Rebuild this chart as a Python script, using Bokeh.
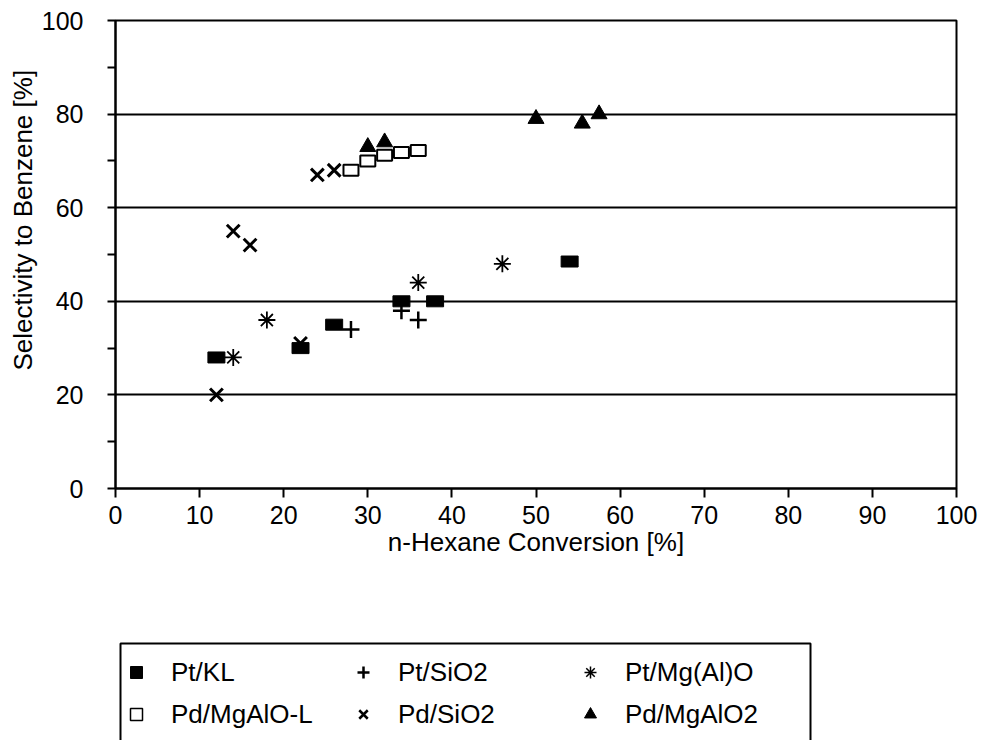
from bokeh.plotting import figure
from bokeh.layouts import column
from bokeh.models import (ColumnDataSource, FixedTicker, Legend, LegendItem, Title,
                          BoxAnnotation)
from bokeh.embed import file_html
from bokeh.resources import INLINE

FONT = "Liberation Sans"

# n-Hexane conversion (%) and selectivity to benzene (%) for each catalyst
pt_kl_conv = [12, 22, 26, 34, 38, 54]
pt_kl_sel = [28, 30, 35, 40, 40, 48.5]

pt_sio2_conv = [28, 34, 36]
pt_sio2_sel = [34, 38, 36]

pt_mgalo_conv = [14, 18, 36, 46]
pt_mgalo_sel = [28, 36, 44, 48]

pd_mgalol_conv = [28, 30, 32, 34, 36]
pd_mgalol_sel = [68, 70, 71.2, 71.8, 72.2]

pd_sio2_conv = [12, 14, 16, 22, 24, 26]
pd_sio2_sel = [20, 55, 52, 31, 67, 68]

pd_mgalo2_conv = [30, 32, 50, 55.5, 57.5]
pd_mgalo2_sel = [73, 74, 79, 78, 80]

x_ticks = [0, 10, 20, 30, 40, 50, 60, 70, 80, 90, 100]
y_ticks = [0, 20, 40, 60, 80, 100]
y_minor_ticks = [10, 30, 50, 70, 90]
grid_levels = [20, 40, 60, 80]

x_title = "n-Hexane Conversion [%]"
y_title = "Selectivity to Benzene [%]"

labels = ["Pt/KL", "Pt/SiO2", "Pt/Mg(Al)O", "Pd/MgAlO-L", "Pd/SiO2", "Pd/MgAlO2"]

src_pt_kl = ColumnDataSource(dict(x=pt_kl_conv, y=pt_kl_sel))
src_pt_sio2 = ColumnDataSource(dict(x=pt_sio2_conv, y=pt_sio2_sel))
src_pt_mgalo = ColumnDataSource(dict(x=pt_mgalo_conv, y=pt_mgalo_sel))
src_pd_mgalol = ColumnDataSource(dict(x=pd_mgalol_conv, y=pd_mgalol_sel))
src_pd_sio2 = ColumnDataSource(dict(x=pd_sio2_conv, y=pd_sio2_sel))
src_pd_mgalo2 = ColumnDataSource(dict(x=pd_mgalo2_conv, y=pd_mgalo2_sel))

BORDER_L, BORDER_R = 115, 27

# ---------------------------------------------------------------- main chart
p = figure(
    width=983, height=580,
    x_range=(0, 100), y_range=(0, 100),
    output_backend="svg", toolbar_location=None,
    min_border_left=BORDER_L, min_border_right=BORDER_R,
    min_border_top=20, min_border_bottom=92,
    background_fill_color="white", border_fill_color="white",
)

p.outline_line_color = "black"
p.outline_line_width = 2
p.outline_line_alpha = 1.0

p.xgrid.visible = False
p.ygrid.ticker = FixedTicker(ticks=grid_levels)
p.ygrid.grid_line_color = "black"
p.ygrid.grid_line_width = 2
p.ygrid.grid_line_alpha = 1.0

# x axis
p.xaxis.ticker = FixedTicker(ticks=x_ticks)
p.xaxis.axis_line_width = 2
p.xaxis.axis_line_color = "black"
p.xaxis.major_tick_in = 0
p.xaxis.major_tick_out = 9
p.xaxis.major_tick_line_width = 2
p.xaxis.major_tick_line_color = "black"
p.xaxis.minor_tick_line_color = None
p.xaxis.major_label_standoff = 8
p.xaxis.major_label_text_font = FONT
p.xaxis.major_label_text_font_size = "25px"
p.xaxis.major_label_text_color = "black"
p.xaxis.axis_label = x_title
p.xaxis.axis_label_text_font = FONT
p.xaxis.axis_label_text_font_size = "26px"
p.xaxis.axis_label_text_font_style = "normal"
p.xaxis.axis_label_text_color = "black"
p.xaxis.axis_label_standoff = 0

# y axis
p.yaxis.ticker = FixedTicker(ticks=y_ticks, minor_ticks=y_minor_ticks)
p.yaxis.axis_line_width = 2
p.yaxis.axis_line_color = "black"
p.yaxis.major_tick_in = 0
p.yaxis.major_tick_out = 8
p.yaxis.minor_tick_in = 0
p.yaxis.minor_tick_out = 8
p.yaxis.major_tick_line_width = 2
p.yaxis.minor_tick_line_width = 2
p.yaxis.major_tick_line_color = "black"
p.yaxis.minor_tick_line_color = "black"
p.yaxis.major_label_standoff = 24
p.yaxis.major_label_text_font = FONT
p.yaxis.major_label_text_font_size = "25px"
p.yaxis.major_label_text_color = "black"

# y-axis title, set a little above the middle of the frame
p.add_layout(Title(
    text=y_title, align="left", offset=118, standoff=2,
    text_font=FONT, text_font_size="26px", text_font_style="normal",
    text_color="black",
), "left")

p.rect("x", "y", source=src_pd_mgalol, width=15, height=11,
       width_units="screen", height_units="screen",
       fill_color="white", line_color="black", line_width=2)
p.rect("x", "y", source=src_pt_kl, width=17, height=11,
       width_units="screen", height_units="screen",
       fill_color="black", line_color="black", line_width=1)
p.scatter("x", "y", source=src_pt_sio2, marker="cross", size=17,
          line_color="black", line_width=2.5)
p.scatter("x", "y", source=src_pt_mgalo, marker="asterisk", size=17,
          line_color="black", line_width=1.8)
p.scatter("x", "y", source=src_pd_sio2, marker="x", size=18,
          line_color="black", line_width=3)
p.scatter("x", "y", source=src_pd_mgalo2, marker="triangle", size=16,
          fill_color="black", line_color="black", line_width=1)

# ---------------------------------------------------------------- legend strip
# frame lines up with the chart above; data units here are page pixels
q = figure(
    width=983, height=160,
    x_range=(BORDER_L, 983 - BORDER_R), y_range=(0, 160),
    x_axis_location=None, y_axis_location=None,
    output_backend="svg", toolbar_location=None,
    min_border_left=BORDER_L, min_border_right=BORDER_R,
    min_border_top=0, min_border_bottom=0,
    background_fill_color="white", border_fill_color="white",
)
q.grid.visible = False
q.outline_line_color = None

# legend frame, open at the bottom edge of the page
q.add_layout(BoxAnnotation(
    left=120, right=810, top=97, bottom=-20,
    fill_color=None, fill_alpha=0,
    line_color="black", line_width=2, line_alpha=1.0,
))

key_style = [
    dict(source=src_pt_kl, marker="square", fill_color="black", line_color="black", line_width=1),
    dict(source=src_pt_sio2, marker="cross", fill_color=None, line_color="black", line_width=2.5),
    dict(source=src_pt_mgalo, marker="asterisk", fill_color=None, line_color="black", line_width=1.5),
    dict(source=src_pd_mgalol, marker="square", fill_color="white", line_color="black", line_width=1.5),
    dict(source=src_pd_sio2, marker="x", fill_color=None, line_color="black", line_width=2.5),
    dict(source=src_pd_mgalo2, marker="triangle", fill_color="black", line_color="black", line_width=1),
]
keys = [q.scatter("x", "y", visible=False, **kw) for kw in key_style]

legend = Legend(
    items=[LegendItem(label=lab, renderers=[r]) for lab, r in zip(labels, keys)],
    orientation="horizontal", ncols=3,
    location=(6, 8),
    glyph_width=30, glyph_height=36,
    label_standoff=20, label_width=171, label_height=30,
    spacing=6, padding=9, margin=0,
    label_text_font=FONT, label_text_font_size="26px", label_text_color="black",
    border_line_color=None, background_fill_alpha=0,
)
q.add_layout(legend, "center")

layout = column(p, q, spacing=0)
open("out.html", "w").write(file_html(layout, INLINE))
